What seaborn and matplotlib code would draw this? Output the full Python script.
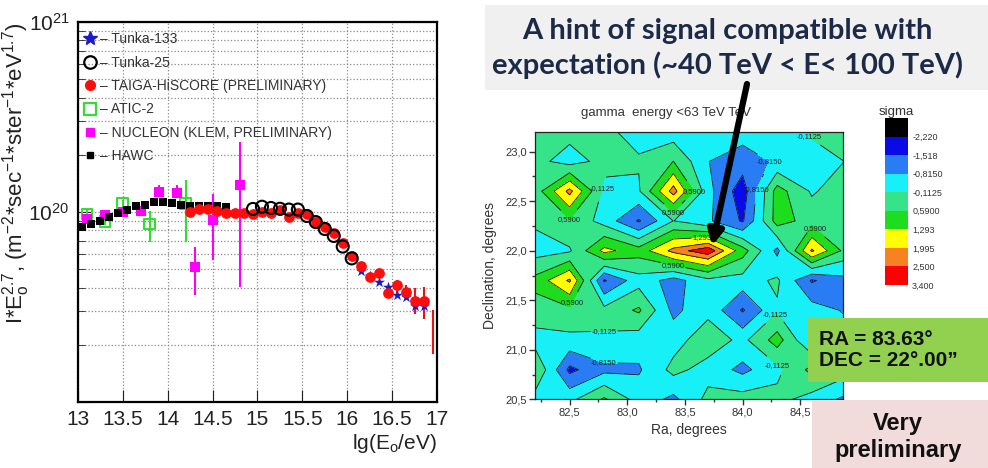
import matplotlib
matplotlib.use('Agg')
import matplotlib.pyplot as plt
import seaborn as sns
from matplotlib.lines import Line2D
from matplotlib.patches import Rectangle, FancyArrowPatch
from matplotlib.ticker import LogLocator, NullFormatter, FuncFormatter

# --- espectro (painel esquerdo) ---
hawc_lgE = [13.05, 13.15, 13.25, 13.35, 13.45, 13.55, 13.65, 13.75, 13.85,
            13.95, 14.05, 14.15, 14.25, 14.35, 14.45, 14.55, 14.65]
hawc_flux = [8.3e19, 8.65e19, 9.0e19, 9.46e19, 9.88e19, 1.03e20, 1.07e20, 1.09e20,
             1.127e20, 1.127e20, 1.11e20, 1.09e20, 1.076e20, 1.076e20, 1.076e20,
             1.07e20, 1.06e20]

atic_lgE = [13.1, 13.3, 13.5, 13.8, 14.2]
atic_flux = [9.76e19, 8.9e19, 1.106e20, 8.65e19, 1.11e20]
atic_lo = [9.3e19, 8.5e19, 1.05e20, 6.98e19, 6.98e19]
atic_hi = [1.02e20, 9.3e19, 1.16e20, 1.01e20, 1.47e20]

nucleon_lgE = [13.1, 13.3, 13.5, 13.7, 13.9, 14.1, 14.3, 14.5, 14.8]
nucleon_flux = [9.19e19, 9.64e19, 1.005e20, 1.017e20, 1.28e20, 1.26e20, 5.12e19,
                9.08e19, 1.387e20]
nucleon_lo = [9.19e19, 9.64e19, 1.005e20, 1.017e20, 1.205e20, 1.18e20, 3.66e19,
              5.59e19, 4.02e19]
nucleon_hi = [9.19e19, 9.64e19, 1.005e20, 1.017e20, 1.387e20, 1.387e20, 6.56e19,
              1.25e20, 2.34e20]

taiga_lgE = [14.25, 14.35, 14.45, 14.55, 14.65, 14.75, 14.85, 14.95, 15.05, 15.15,
             15.25, 15.35, 15.45, 15.55, 15.65, 15.75, 15.85, 15.95, 16.05, 16.15,
             16.25, 16.35, 16.45, 16.55, 16.65, 16.75, 16.85]
taiga_flux = [1.004e20, 1.033e20, 1.033e20, 1.012e20, 9.84e19, 9.84e19, 9.84e19,
              9.72e19, 9.96e19, 9.91e19, 1.026e20, 9.44e19, 9.84e19, 9.75e19,
              8.89e19, 8.31e19, 7.72e19, 6.89e19, 5.86e19, 5.20e19, 4.56e19,
              4.76e19, 3.73e19, 4.13e19, 3.81e19, 3.42e19, 3.42e19]
taiga_err_lgE = [16.55, 16.65, 16.75, 16.85, 16.95]
taiga_err_lo = [3.73e19, 3.44e19, 2.90e19, 2.75e19, 1.80e19]
taiga_err_hi = [4.39e19, 4.13e19, 3.97e19, 4.02e19, 3.05e19]

tunka25_lgE = [14.95, 15.05, 15.15, 15.25, 15.35, 15.45, 15.55, 15.65, 15.75,
               15.85, 15.95, 16.05]
tunka25_flux = [1.038e20, 1.066e20, 1.05e20, 1.04e20, 1.03e20, 1.03e20, 9.53e19,
                8.85e19, 8.14e19, 7.48e19, 6.58e19, 5.70e19]

tunka133_lgE = [16.15, 16.25, 16.35, 16.45, 16.55, 16.65, 16.75, 16.85]
tunka133_flux = [4.92e19, 4.6e19, 4.30e19, 4.02e19, 3.64e19, 3.55e19, 3.22e19, 3.22e19]

x_ticks = [13, 13.5, 14, 14.5, 15, 15.5, 16, 16.5, 17]
x_ticklabels = ['13', '13.5', '14', '14.5', '15', '15.5', '16', '16.5', '17']
legend_labels = ['– Tunka-133', '– Tunka-25', '– TAIGA-HiSCORE (PRELIMINARY)',
                 '– ATIC-2', '– NUCLEON (KLEM, PRELIMINARY)', '– HAWC']

# --- mapa de significancia (painel direito) ---
ra = [82.2, 82.5, 82.8, 83.1, 83.4, 83.7, 84.0, 84.3, 84.6, 84.9]
dec = [20.5, 20.8, 21.1, 21.4, 21.7, 22.0, 22.3, 22.6, 22.9, 23.2]
sigma = [
    [-0.4, -0.3, 0.7, -0.4, -1.0, 0.1, 0.2, 0.1, -0.4, -1.0],
    [0.6, -1.7, -1.0, -0.9, 0.1, -0.4, -1.0, -0.3, 0.8, 0.2],
    [-0.4, -0.3, -0.2, -0.5, -0.4, 0.3, -0.3, 0.9, -0.9, -0.5],
    [0.3, 0.4, 0.1, 0.7, -1.0, -0.3, -1.6, -0.2, -0.5, -0.9],
    [0.8, 2.1, -1.6, -0.4, -1.1, -0.3, -0.4, 0.0, -1.6, -1.0],
    [-0.4, -0.2, 1.5, 0.9, 2.2, 2.9, 0.9, -1.0, 2.1, 0.3],
    [0.0, 0.5, -0.4, -1.6, -0.1, -0.7, -1.6, 0.9, 0.3, 0.5],
    [0.2, 2.2, -0.3, -0.2, 2.3, -0.6, -1.9, 0.9, -0.2, 0.3],
    [0.1, -0.4, 0.1, -0.05, 0.6, -0.8, -1.2, -0.7, -0.3, -0.1],
    [0.3, 0.1, 0.0, -0.3, -0.5, -0.4, -0.5, -0.4, -0.05, 0.2],
]
levels = [-2.925, -2.220, -1.518, -0.8150, -0.1125, 0.5900, 1.293, 1.995, 2.500, 3.400]
level_labels = ['', '-2,220', '-1,518', '-0,8150', '-0,1125', '0,5900', '1,293',
                '1,995', '2,500', '3,400']
level_colors = ['#000000', '#0a0ae6', '#2a7cf5', '#18f0f8', '#35e488', '#1edc1e',
                '#ffff00', '#f78320', '#ff0000']
labelled_levels = [-0.8150, -0.1125, 0.5900, 1.293]
other_levels = [-2.220, -1.518, 1.995, 2.500]
# onde ficam os rotulos das curvas (Ra, Dec)
clabel_spots = [(82.90, 22.60), (83.58, 22.60), (84.15, 22.60), (84.25, 22.90),
                (84.55, 23.12), (82.51, 22.30), (83.39, 22.36), (83.65, 22.12),
                (83.40, 21.87), (82.51, 21.48), (84.27, 21.38), (82.80, 21.12),
                (82.80, 20.88), (84.28, 20.82), (84.70, 22.32)]

sns.set_style('white')
plt.rcParams['font.family'] = ['Liberation Sans', 'DejaVu Sans']
plt.rcParams['mathtext.default'] = 'regular'
plt.rcParams['contour.negative_linestyle'] = 'solid'

fig = plt.figure(figsize=(9.88, 4.68), dpi=100)

# ---------------- painel esquerdo ----------------
ax1 = fig.add_axes([0.0789, 0.141, 0.3634, 0.812])
ax1.set_yscale('log')

ax1.vlines(atic_lgE, atic_lo, atic_hi, color='#33dd33', lw=1.5, zorder=2)
sns.scatterplot(x=atic_lgE, y=atic_flux, marker='s', s=60, facecolor='none',
                edgecolor='#33dd33', linewidth=1.5, ax=ax1, zorder=3)
ax1.vlines(nucleon_lgE, nucleon_lo, nucleon_hi, color='#ff00ff', lw=1.5, zorder=2)
sns.scatterplot(x=nucleon_lgE, y=nucleon_flux, marker='s', color='#ff00ff', s=45,
                edgecolor='#ff00ff', linewidth=0, ax=ax1, zorder=3)
sns.scatterplot(x=hawc_lgE, y=hawc_flux, marker='s', color='black', s=30,
                edgecolor='black', linewidth=0, ax=ax1, zorder=4)
ax1.vlines(taiga_err_lgE, taiga_err_lo, taiga_err_hi, color='#ee1111', lw=1.5, zorder=4)
sns.scatterplot(x=taiga_lgE, y=taiga_flux, marker='o', color='#ff0d0d', s=60,
                edgecolor='#ff0d0d', linewidth=0, ax=ax1, zorder=5)
sns.scatterplot(x=tunka25_lgE, y=tunka25_flux, marker='o', s=75, facecolor='none',
                edgecolor='black', linewidth=1.5, ax=ax1, zorder=6)
sns.scatterplot(x=tunka133_lgE, y=tunka133_flux, marker='*', color='#1a1acc', s=70,
                edgecolor='#1a1acc', linewidth=0, ax=ax1, zorder=4.5)

ax1.set_xlim(13, 17)
ax1.set_ylim(1e19, 1e21)
ax1.set_xticks(x_ticks, x_ticklabels)
ax1.set_yticks([1e19, 1e20, 1e21], ['', r'$10^{20}$', r'$10^{21}$'])
ax1.yaxis.set_minor_locator(LogLocator(base=10, subs=[2, 3, 4, 5, 6, 7, 8, 9]))
ax1.yaxis.set_minor_formatter(NullFormatter())
ax1.tick_params(which='both', direction='in', left=True, bottom=True,
                labelsize=15, colors='#222222', pad=6)
ax1.tick_params(which='major', length=9)
ax1.tick_params(which='minor', length=5)
ax1.set_axisbelow(True)
ax1.xaxis.grid(True, which='major', color='#8a8a8a', linestyle=':', linewidth=0.9)
ax1.yaxis.grid(True, which='both', color='#8a8a8a', linestyle=':', linewidth=0.9)
for sp in ax1.spines.values():
    sp.set_color('black')
    sp.set_linewidth(1.6)

ax1.set_xlabel(r'lg(E$_o$/eV)', fontsize=15, loc='right', color='#222222', labelpad=2)
ax1.set_ylabel(r'I*E$_o^{2.7}$, (m$^{-2}$*sec$^{-1}$*ster$^{-1}$*eV$^{1.7}$)',
               fontsize=16, loc='top', color='#222222')
ax1.yaxis.set_label_coords(-0.128, 1.0)

handles = [
    Line2D([], [], ls='none', marker='*', ms=10, color='#1a1acc'),
    Line2D([], [], ls='none', marker='o', ms=9, mfc='none', mec='black', mew=1.6),
    Line2D([], [], ls='none', marker='o', ms=7, color='#ff0d0d'),
    Line2D([], [], ls='none', marker='s', ms=9, mfc='none', mec='#33dd33', mew=1.6),
    Line2D([], [], ls='none', marker='s', ms=6, color='#ff00ff'),
    Line2D([], [], ls='none', marker='s', ms=4.5, color='black'),
]
leg = ax1.legend(handles, legend_labels, loc='upper left', bbox_to_anchor=(-0.025, 1.01),
                 frameon=False, fontsize=10, handlelength=1.0, handletextpad=0.2,
                 labelspacing=0.68, borderpad=0.5)
for t in leg.get_texts():
    t.set_color('#333333')

# ---------------- painel direito ----------------
ax2 = fig.add_axes([0.5415, 0.1464, 0.3117, 0.5722])
cs = ax2.contourf(ra, dec, sigma, levels=levels, colors=level_colors)
ax2.contour(ra, dec, sigma, levels=other_levels, colors='#1a1a1a', linewidths=0.6,
            linestyles='solid')
cl = ax2.contour(ra, dec, sigma, levels=labelled_levels, colors='#1a1a1a',
                 linewidths=0.6, linestyles='solid')
fmt = dict(zip(levels, level_labels))
ax2.set_xlim(82.2, 84.87)
ax2.set_ylim(20.5, 23.2)
lbls = ax2.clabel(cl, fmt=fmt, fontsize=5.5, colors='#222222', inline=True,
                  inline_spacing=1, manual=clabel_spots)
for t in lbls:
    t.set_rotation(0)
comma = FuncFormatter(lambda v, p: f'{v:.1f}'.replace('.', ','))
ax2.set_xticks([82.5, 83.0, 83.5, 84.0, 84.5])
ax2.set_xticks([82.25, 82.75, 83.25, 83.75, 84.25, 84.75], minor=True)
ax2.set_yticks([20.5, 21.0, 21.5, 22.0, 22.5, 23.0])
ax2.set_yticks([20.75, 21.25, 21.75, 22.25, 22.75], minor=True)
ax2.xaxis.set_major_formatter(comma)
ax2.yaxis.set_major_formatter(comma)
ax2.tick_params(which='both', direction='out', left=True, bottom=True,
                labelsize=8, colors='#333333', pad=2)
ax2.tick_params(which='major', length=4, width=1)
ax2.tick_params(which='minor', length=2.5, width=1)
for sp in ax2.spines.values():
    sp.set_color('#222222')
    sp.set_linewidth(0.9)
ax2.set_xlabel('Ra, degrees', fontsize=10, color='#333333', labelpad=4)
ax2.set_ylabel('Declination, degrees', fontsize=10, color='#333333', labelpad=6)
ax2.text(0.425, 1.07, 'gamma  energy <63 TeV TeV', transform=ax2.transAxes,
         ha='center', va='center', fontsize=9.5, color='#333333')

cax = fig.add_axes([0.8957, 0.391, 0.0233, 0.3568])
cb = fig.colorbar(cs, cax=cax, ticks=levels[1:])
cax.invert_yaxis()
cb.set_ticklabels(level_labels[1:])
cb.outline.set_visible(False)
cax.tick_params(length=0, labelsize=6.5, colors='#333333', pad=3)
cax.set_title('sigma', fontsize=9.5, color='#333333', pad=1)

# ---------------- caixas de texto ----------------
fig.patches.append(Rectangle((485 / 988, 1 - 90 / 468), 503 / 988, 85 / 468,
                             transform=fig.transFigure, facecolor='#f0f0f0',
                             edgecolor='none', zorder=0))
fig.text(727 / 988, 1 - 31 / 468, 'A hint of signal compatible with', ha='center',
         va='center', fontsize=21, fontweight='bold', color='#1c2a48', family='Lato')
fig.text(727 / 988, 1 - 65 / 468, 'expectation (~40 TeV < E< 100 TeV)', ha='center',
         va='center', fontsize=21, fontweight='bold', color='#1c2a48', family='Lato')

fig.add_artist(FancyArrowPatch((747 / 988, 1 - 84 / 468), (712 / 988, 1 - 246 / 468),
                               transform=fig.transFigure, arrowstyle='-|>',
                               mutation_scale=22, lw=4.5, color='black', zorder=10,
                               shrinkA=0, shrinkB=0))

fig.patches.append(Rectangle((808 / 988, 1 - 382 / 468), 180 / 988, 64 / 468,
                             transform=fig.transFigure, facecolor='#92d050',
                             edgecolor='none', zorder=5))
fig.text(819 / 988, 1 - 350 / 468, 'RA = 83.63°\nDEC = 22°.00”', ha='left',
         va='center', fontsize=15, fontweight='bold', color='#111111',
         linespacing=1.15, zorder=6)

fig.patches.append(Rectangle((812 / 988, 0), 176 / 988, 68 / 468,
                             transform=fig.transFigure, facecolor='#f2dcdb',
                             edgecolor='none', zorder=5))
fig.text(898 / 988, 1 - 437 / 468, 'Very\npreliminary', ha='center', va='center',
         fontsize=17, fontweight='bold', color='#111111', linespacing=1.2, zorder=6)

fig.savefig('out.png', dpi=100)
